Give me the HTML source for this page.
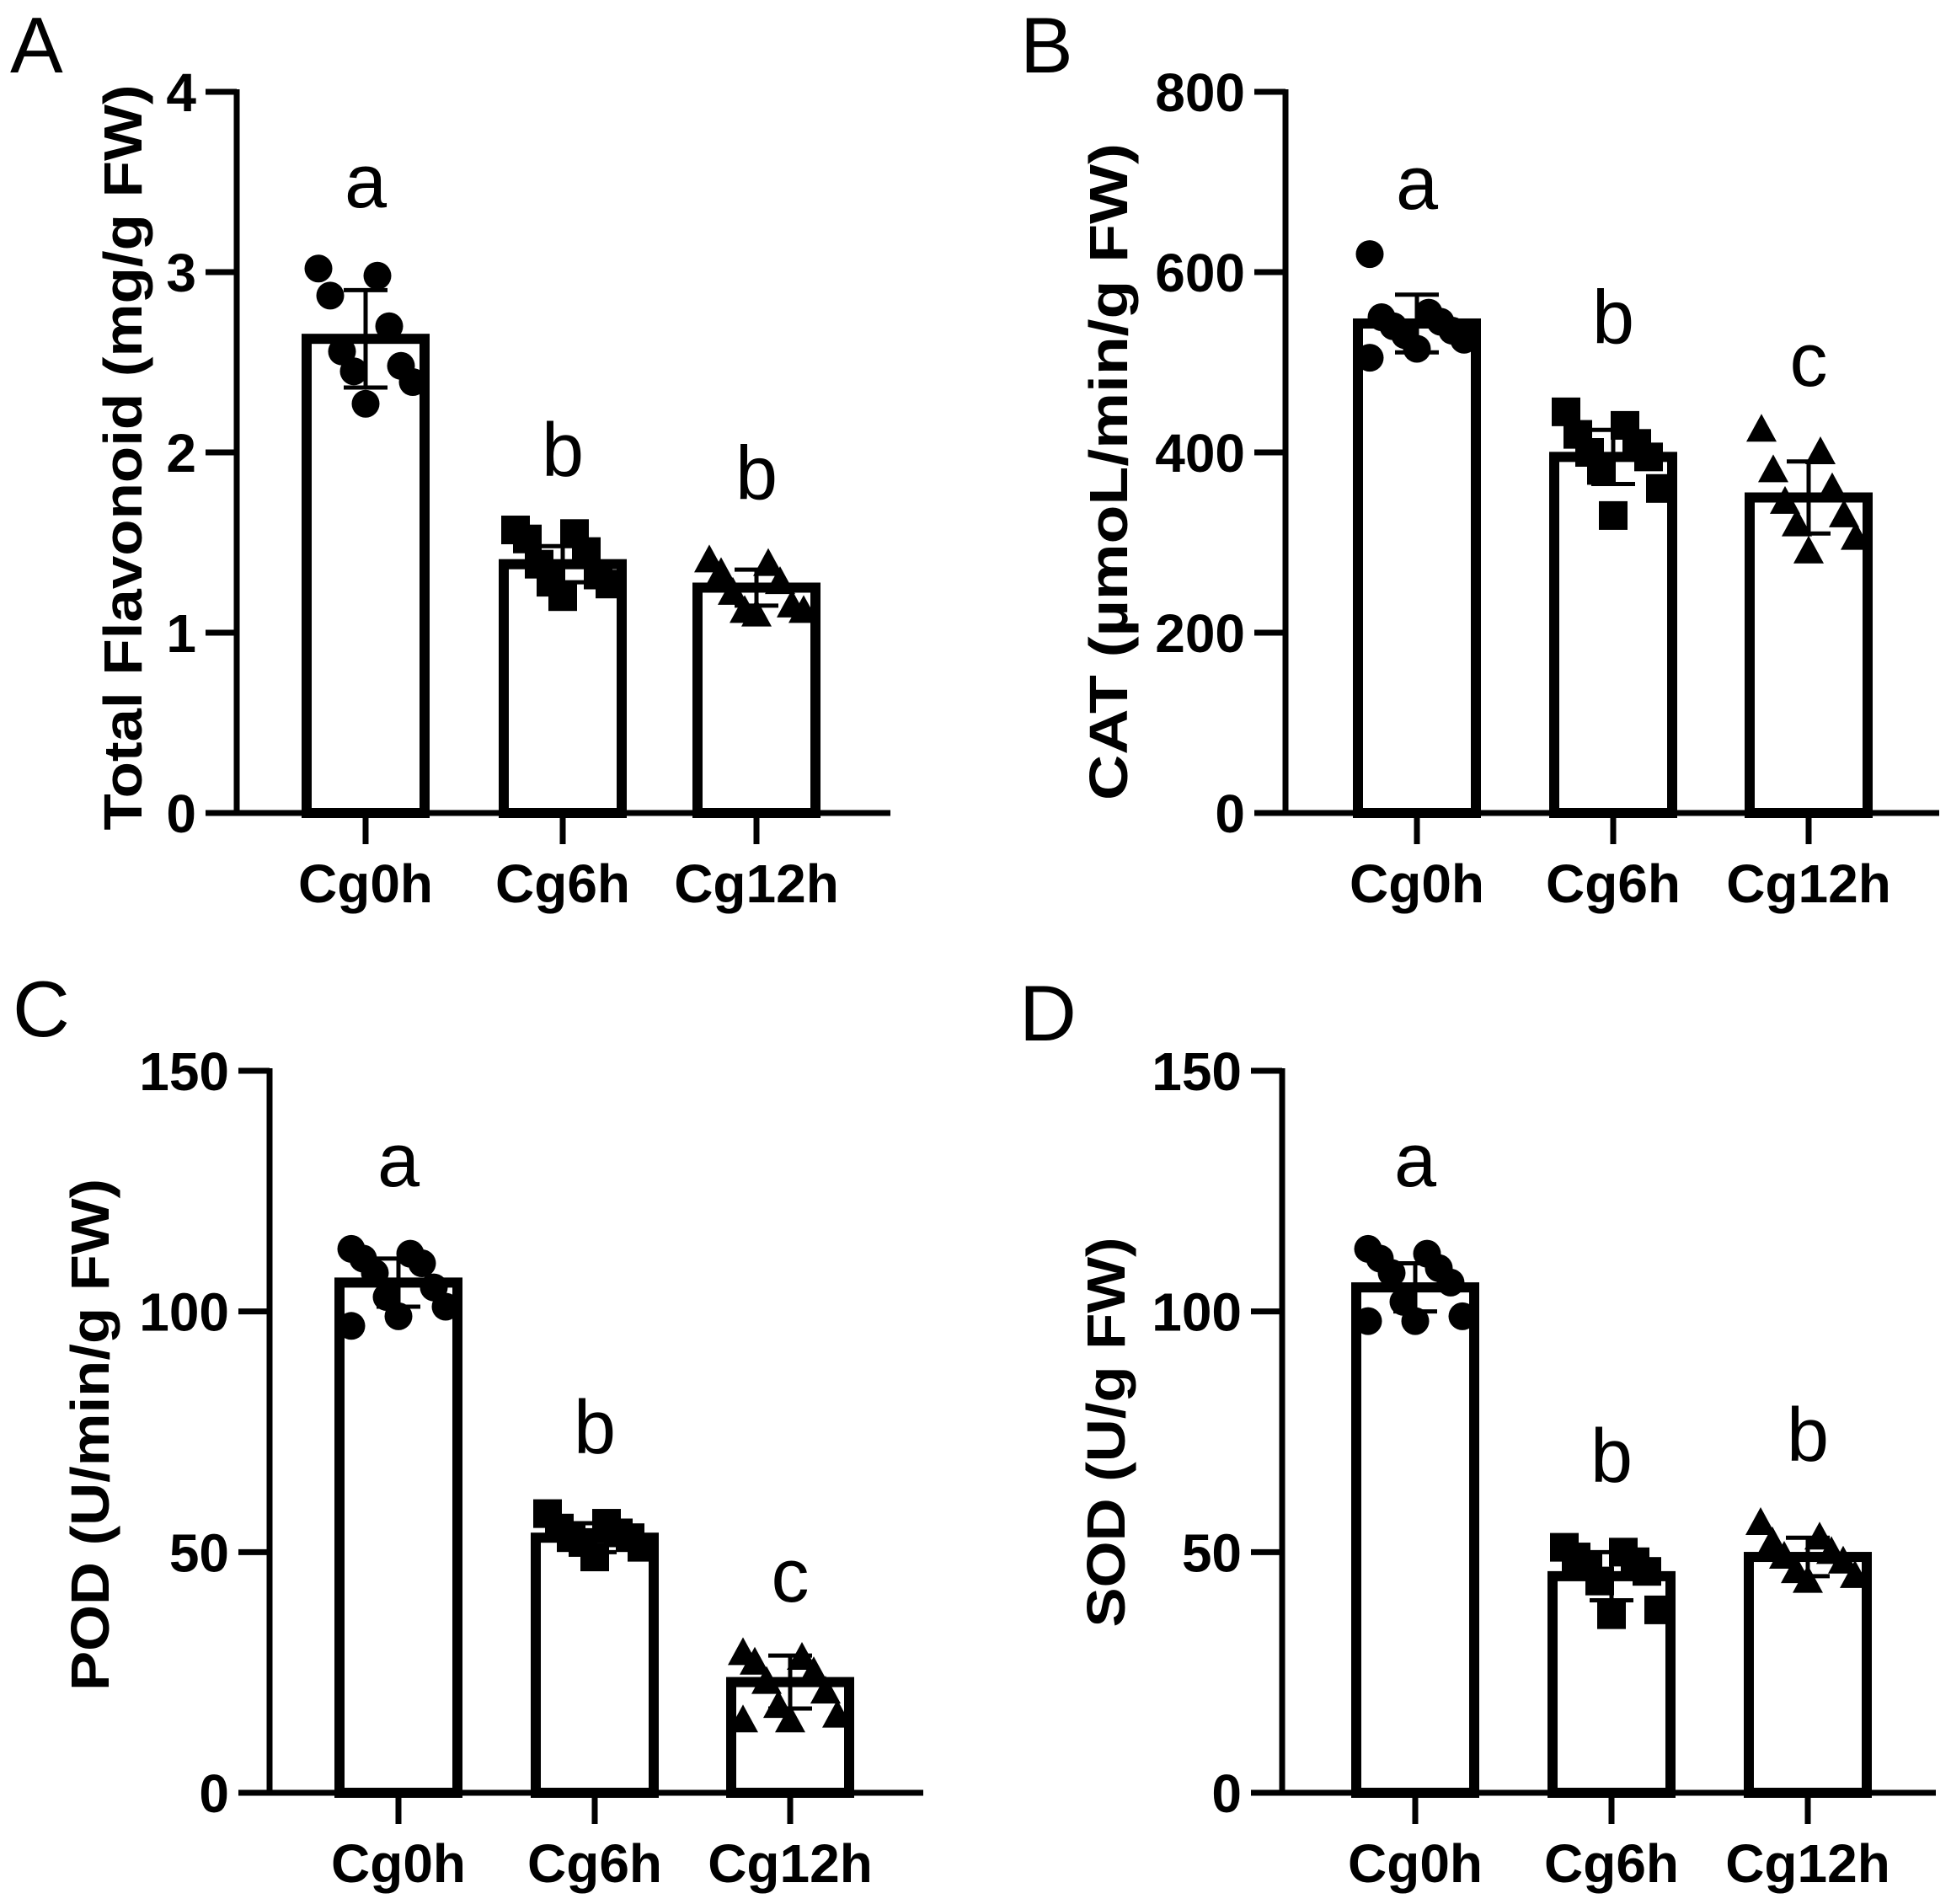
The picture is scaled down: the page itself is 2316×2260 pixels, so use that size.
<!DOCTYPE html>
<html><head><meta charset="utf-8"><title>Antioxidant measurements</title>
<style>html,body{margin:0;padding:0;background:#fff}svg{display:block}text{font-family:"Liberation Sans",Arial,sans-serif}</style>
</head><body>
<svg id="fig" width="2316" height="2260" viewBox="0 0 2316 2260" xmlns="http://www.w3.org/2000/svg"></svg>
<script>
const categories = ["Cg0h","Cg6h","Cg12h"];
const aMeans = [2.63, 1.38, 1.25];
const aSD = [0.27, 0.10, 0.10];
const aPoints = [[3.02,2.98,2.87,2.70,2.56,2.48,2.45,2.39,2.27],[1.57,1.55,1.52,1.45,1.38,1.32,1.28,1.27,1.20],[1.40,1.38,1.33,1.28,1.22,1.15,1.12,1.12,1.10]];
const aLetters = ["a","b","b"];
const aLetterVals = [3.36,1.87,1.74];
const aTicks = [0,1,2,3,4];
const bMeans = [543, 395, 350];
const bSD = [32, 30, 40];
const bPoints = [[620,555,550,545,540,535,530,525,515,505],[445,430,420,410,400,395,380,360,330],[425,400,380,360,345,330,320,305,290]];
const bLetters = ["a","b","c"];
const bLetterVals = [670,521,474];
const bTicks = [0,200,400,600,800];
const cMeans = [106, 53, 23];
const cSD = [5, 3, 5.5];
const cPoints = [[113,112,111,110,108,105,103,101,99,97],[58,56,55,54,53,53,52,51,49],[29,28,27,25,23,21,18,16,15,15]];
const cLetters = ["a","b","c"];
const cLetterVals = [126,70.5,39.7];
const cTicks = [0,50,100,150];
const dMeans = [105, 45, 49];
const dSD = [5, 5, 4];
const dPoints = [[113,112,111,109,108,106,102,99,98,98],[51,50,49,48,47,46,44,38,37],[56,53,52,50,49,48,46,45,44]];
const dLetters = ["a","b","b"];
const dLetterVals = [126,64.6,69];
const dTicks = [0,50,100,150];

const NS="http://www.w3.org/2000/svg";
const svg=document.getElementById('fig');
function mk(tag,attrs,parent){const e=document.createElementNS(NS,tag);for(const k in attrs)e.setAttribute(k,attrs[k]);(parent||svg).appendChild(e);return e;}

function panel(cfg){
  const g=mk('g',{});
  
  
  const y0=cfg.zeroY, y1=cfg.topY, ax=cfg.axisX;
  const ymax=cfg.ticks[cfg.ticks.length-1];
  const yS=v=>y0-(v/ymax)*(y0-y1);
  const xS=i=>ax+cfg.offsets[i];
  const pl=mk('text',{x:cfg.letterX,y:cfg.letterY,'font-size':94},g);
  pl.textContent=cfg.letter;
  
  
  const yt=mk('text',{x:0,y:0,'font-size':64,'font-weight':'bold','text-anchor':'middle',transform:`translate(${cfg.titleX+23},${cfg.titleY}) rotate(-90)`,textLength:cfg.titleLen,lengthAdjust:'spacingAndGlyphs'},g);
  yt.textContent=cfg.title;
  
  
  categories.forEach((c,i)=>{
    const cx=xS(i), top=yS(cfg.means[i]);
    const r=mk('rect',{x:cx-70,y:top,width:140,height:y0-top,fill:'#fff',stroke:'#000','stroke-width':12},g);
    
    
  });
  categories.forEach((c,i)=>{
    const cx=xS(i);
    cfg.points[i].forEach((v,j)=>{
      const px=cx+(((j*5)%9)-4)*14, py=yS(v);
      let m;
      if(i===0) m=mk('circle',{cx:px,cy:py,r:16.5,fill:'#000'},g);
      else if(i===1) m=mk('rect',{x:px-17,y:py-17,width:34,height:34,fill:'#000'},g);
      else m=mk('polygon',{points:`${px},${py-19} ${px-18},${py+14} ${px+18},${py+14}`,fill:'#000'},g);
      
      
    });
  });
  categories.forEach((c,i)=>{
    const cx=xS(i), hi=yS(cfg.means[i]+cfg.sd[i]), lo=yS(cfg.means[i]-cfg.sd[i]);
    const eg=mk('g',{stroke:'#000','stroke-width':5},g);
    
    
    mk('line',{x1:cx,x2:cx,y1:hi,y2:lo},eg);
    mk('line',{x1:cx-26,x2:cx+26,y1:hi,y2:hi},eg);
    mk('line',{x1:cx-26,x2:cx+26,y1:lo,y2:lo},eg);
  });
  categories.forEach((c,i)=>{
    const t=mk('text',{x:xS(i),y:yS(cfg.letterVals[i]),'font-size':90,'text-anchor':'middle'},g);
    t.textContent=cfg.sig[i];
    
    
  });
  const ya=mk('line',{x1:ax,x2:ax,y1:y1-3,y2:y0+3,stroke:'#000','stroke-width':7},g);
  
  
  const xa=mk('line',{x1:ax-37,x2:ax+776,y1:y0,y2:y0,stroke:'#000','stroke-width':7},g);
  
  
  cfg.ticks.forEach(v=>{
    const y=yS(v);
    mk('line',{x1:ax-37,x2:ax,y1:y,y2:y,stroke:'#000','stroke-width':7},g);
    const t=mk('text',{x:ax-48,y:y+23,'font-size':64,'font-weight':'bold','text-anchor':'end'},g);
    t.textContent=v;
    
    
  });
  categories.forEach((c,i)=>{
    const cx=xS(i);
    mk('line',{x1:cx,x2:cx,y1:y0,y2:y0+37,stroke:'#000','stroke-width':7},g);
    const t=mk('text',{x:cx,y:y0+106,'font-size':64,'font-weight':'bold','text-anchor':'middle'},g);
    t.textContent=c;
    
    
  });
}
panel({id:'a',letter:'A',letterX:12,letterY:86,title:'Total Flavonoid (mg/g FW)',titleX:145,titleY:543,titleLen:885,axisX:281,topY:109,zeroY:965,offsets:[153,387,617],ticks:aTicks,means:aMeans,sd:aSD,points:aPoints,sig:aLetters,letterVals:aLetterVals});
panel({id:'b',letter:'B',letterX:1211,letterY:86,title:'CAT (µmoL/min/g FW)',titleX:1315,titleY:560,titleLen:780,axisX:1526,topY:109,zeroY:965,offsets:[156,389,621],ticks:bTicks,means:bMeans,sd:bSD,points:bPoints,sig:bLetters,letterVals:bLetterVals});
panel({id:'c',letter:'C',letterX:15,letterY:1230,title:'POD (U/min/g FW)',titleX:106,titleY:1703,titleLen:608,axisX:320,topY:1271,zeroY:2128,offsets:[153,386,618],ticks:cTicks,means:cMeans,sd:cSD,points:cPoints,sig:cLetters,letterVals:cLetterVals});
panel({id:'d',letter:'D',letterX:1210,letterY:1235,title:'SOD (U/g FW)',titleX:1312,titleY:1700,titleLen:463,axisX:1522,topY:1271,zeroY:2128,offsets:[158,391,624],ticks:dTicks,means:dMeans,sd:dSD,points:dPoints,sig:dLetters,letterVals:dLetterVals});
</script>
</body></html>
